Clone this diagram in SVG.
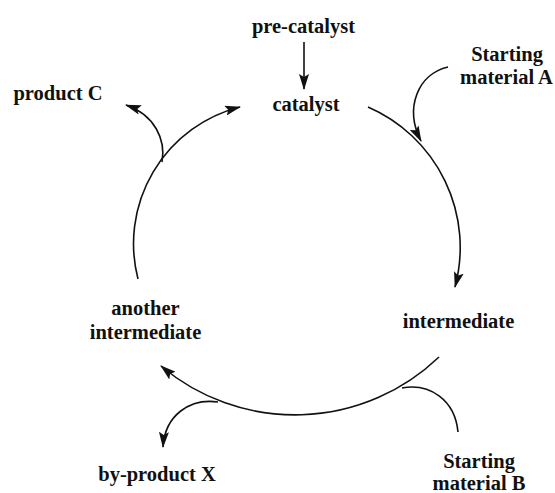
<svg xmlns="http://www.w3.org/2000/svg" width="555" height="493" viewBox="0 0 555 493">
<style>
text{font-family:"Liberation Serif","Times New Roman",serif;font-weight:bold;font-size:20.5px;fill:#111;text-anchor:middle}
.c{fill:none;stroke:#111;stroke-width:1.6}
</style>
<defs>
<marker id="ah" viewBox="0 0 16 10" refX="15" refY="5" markerWidth="16" markerHeight="10" markerUnits="userSpaceOnUse" orient="auto">
<path d="M0,0 L16,5 L0,10 L3,5 z" fill="#111"/>
</marker>
</defs>
<rect width="555" height="493" fill="#fff"/>
<g id="connectors">
<path class="c" d="M304,42 L304,89" marker-end="url(#ah)"/>
<path class="c" d="M368,107 A153,153 0 0 1 455,287" marker-end="url(#ah)"/>
<path class="c" d="M439,357 A208,208 0 0 1 161,366" marker-end="url(#ah)"/>
<path class="c" d="M138,279 A141,141 0 0 1 240,107" marker-end="url(#ah)"/>
<path class="c" d="M448,67 C418,74 404,108 421,141" marker-end="url(#ah)"/>
<path class="c" d="M458,432 C455,400 430,383 402,388"/>
<path class="c" d="M162,162 C166,140 155,115 126,105" marker-end="url(#ah)"/>
<path class="c" d="M218,402 C190,398 165,415 163,447" marker-end="url(#ah)"/>
</g>
<g id="pre-catalyst"><text x="303.5" y="33">pre-catalyst</text></g>
<g id="catalyst"><text x="306" y="111">catalyst</text></g>
<g id="starting-material-a"><text x="507" y="61">Starting</text><text x="506.5" y="84">material A</text></g>
<g id="intermediate"><text x="458.5" y="328">intermediate</text></g>
<g id="starting-material-b"><text x="479" y="468">Starting</text><text x="479" y="490">material B</text></g>
<g id="by-product-x"><text x="157" y="481">by-product X</text></g>
<g id="another-intermediate"><text x="145.5" y="315">another</text><text x="145.5" y="339">intermediate</text></g>
<g id="product-c"><text x="58" y="100">product C</text></g>
</svg>
